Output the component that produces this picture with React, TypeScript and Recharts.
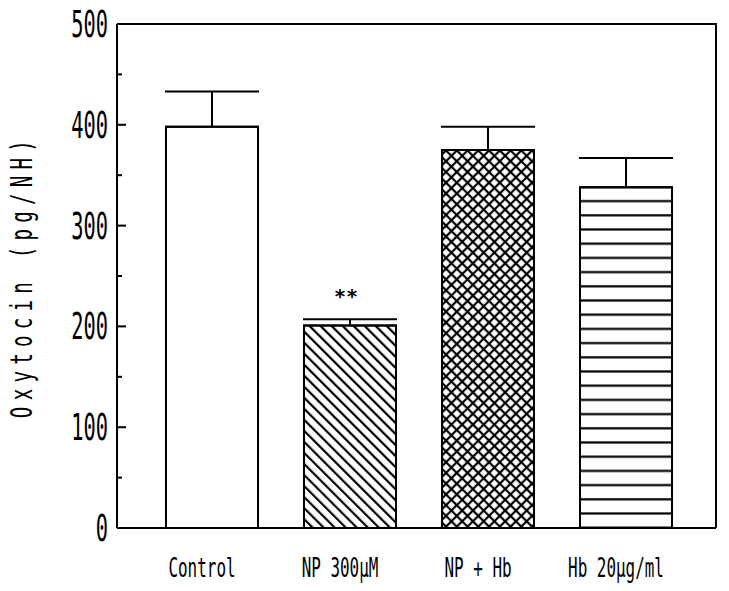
import * as R from "recharts";
import { BarChart, Bar, XAxis, YAxis, ErrorBar, Cell, LabelList, Label } from "recharts";

const categories = ["Control", "NP 300µM", "NP + Hb", "Hb 20µg/ml"];
const oxytocin = [398, 201, 375, 338];
const sem = [35, 6, 23, 29];
const marks = ["", "**", "", ""];
const yTicks = [0, 50, 100, 150, 200, 250, 300, 350, 400, 450, 500];

const fills = ["#ffffff", "url(#diag)", "url(#cross)", "url(#stripes)"];

const data = categories.map((name, i) => ({
  name,
  value: oxytocin[i],
  err: [0, sem[i]],
  mark: marks[i],
}));

const FONT = "DejaVu Sans Mono";

const YTick = (props: any) => {
  const { x, y, payload } = props;
  const v = payload.value;
  const major = v % 100 === 0;
  return (
    <g>
      <line x1={x} x2={x + (major ? 9 : 5)} y1={y} y2={y} stroke="#000" strokeWidth={2} />
      {major && (
        <text
          transform={`translate(${x - 9},${y + 13}) scale(0.55,1)`}
          textAnchor="end"
          fontFamily={FONT}
          fontSize={37}
          fill="#000"
        >
          {v}
        </text>
      )}
    </g>
  );
};

const XTick = (props: any) => {
  const { x, y, payload } = props;
  return (
    <text
      transform={`translate(${x - 10},${y + 49}) scale(0.59,1)`}
      textAnchor="middle"
      fontFamily={FONT}
      fontSize={27}
      fill="#000"
    >
      {payload.value}
    </text>
  );
};

const StarMark = (props: any) => {
  const { x, y, width, value } = props;
  if (!value) return null;
  return (
    <text
      x={x + width / 2 - 4}
      y={y - 22}
      textAnchor="middle"
      fontFamily={FONT}
      fontSize={20}
      fontWeight="bold"
      fill="#000"
    >
      {value}
    </text>
  );
};

const YLabel = () => (
  <text
    transform="translate(32,276) rotate(-90) scale(0.62,1)"
    textAnchor="middle"
    fontFamily={FONT}
    fontSize={31}
    letterSpacing={10}
    fill="#000"
  >
    Oxytocin (pg/NH)
  </text>
);

// top and right edges of the box, taken from the plot area
const Frame = () => {
  const hook = (R as any).usePlotArea;
  const area = hook ? hook() : null;
  if (!area) return null;
  const { x, y, width, height } = area;
  return (
    <path
      d={`M${x},${y} H${x + width} V${y + height}`}
      fill="none"
      stroke="#000"
      strokeWidth={2}
    />
  );
};

export default function App() {
  return (
    <div style={{ position: "absolute", left: 0, top: 0, background: "#fff" }}>
      <BarChart
        width={729}
        height={591}
        data={data}
        margin={{ top: 24, right: 13, left: 0, bottom: 0 }}
      >
        <defs>
          <pattern id="diag" width="7.8" height="7.8" patternUnits="userSpaceOnUse" patternTransform="rotate(-45)">
            <rect width="7.8" height="7.8" fill="#fff" />
            <rect x="2.9" width="2.2" height="7.8" fill="#000" />
          </pattern>
          <pattern id="cross" width="7.6" height="7.6" patternUnits="userSpaceOnUse" patternTransform="rotate(45)">
            <rect width="7.6" height="7.6" fill="#fff" />
            <rect x="2.7" width="2.2" height="7.6" fill="#000" />
            <rect y="2.7" width="7.6" height="2.2" fill="#000" />
          </pattern>
          <pattern id="stripes" width="10" height="14.2" patternUnits="userSpaceOnUse">
            <rect width="10" height="14.2" fill="#fff" />
            <rect y="1.2" width="10" height="2.2" fill="#000" />
          </pattern>
        </defs>
        <XAxis
          dataKey="name"
          height={63}
          padding={{ left: 26, right: 21 }}
          tickLine={false}
          tickSize={0}
          tickMargin={0}
          tick={<XTick />}
          axisLine={{ stroke: "#000", strokeWidth: 2 }}
        />
        <YAxis
          width={117}
          domain={[0, 500]}
          ticks={yTicks}
          interval={0}
          tickLine={false}
          tickSize={0}
          tickMargin={0}
          tick={<YTick />}
          axisLine={{ stroke: "#000", strokeWidth: 2 }}
        >
          <Label content={<YLabel />} />
        </YAxis>
        <Bar dataKey="value" barSize={92} stroke="#000" strokeWidth={2} isAnimationActive={false}>
          {data.map((d, i) => (
            <Cell key={d.name} fill={fills[i]} />
          ))}
          <ErrorBar dataKey="err" width={47} stroke="#000" strokeWidth={2} direction="y" />
          <LabelList dataKey="mark" content={<StarMark />} />
        </Bar>
        <Frame />
      </BarChart>
    </div>
  );
}
